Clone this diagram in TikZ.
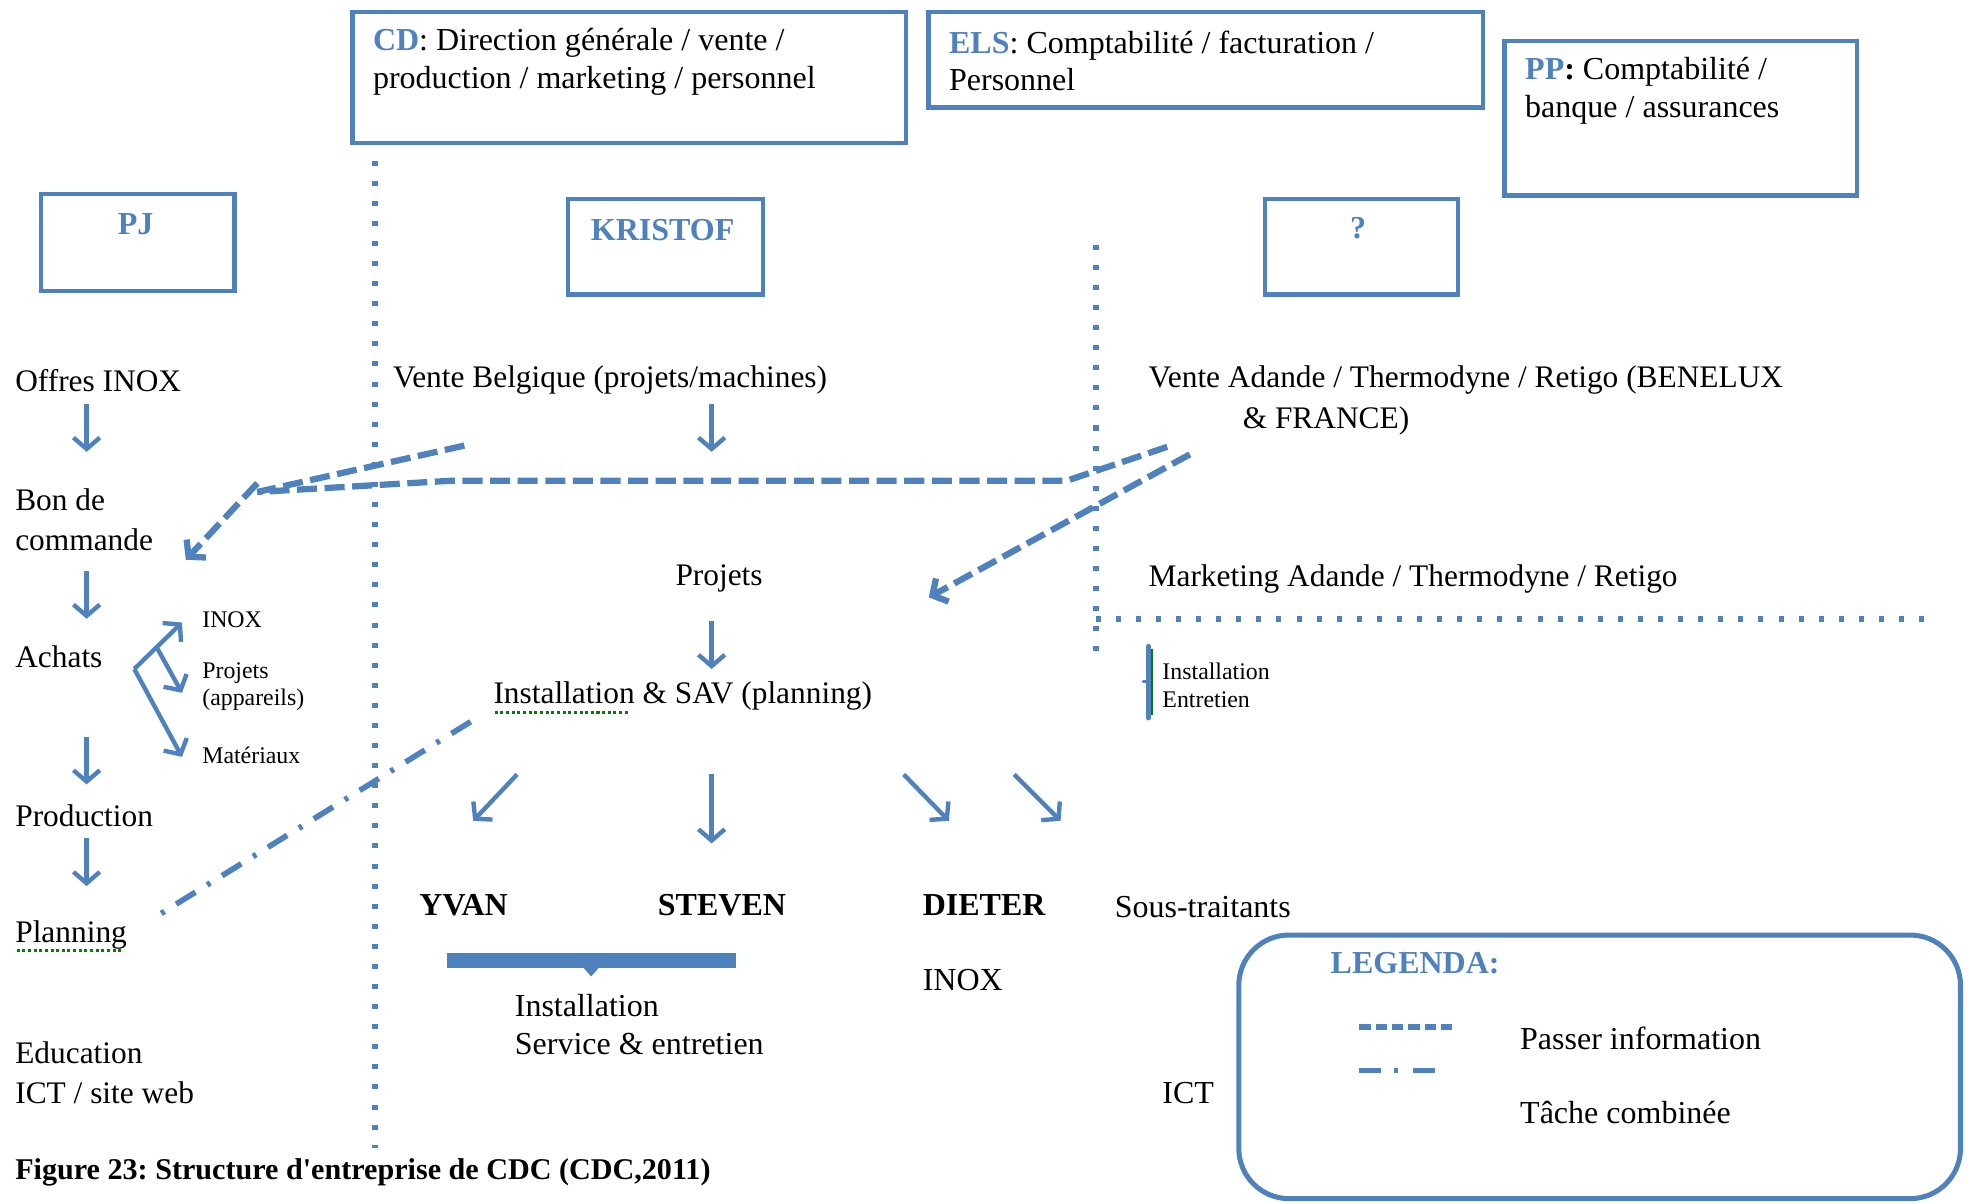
\documentclass[tikz,border=0pt]{standalone}
\usepackage{fontspec}
\setmainfont{Liberation Serif}
\usetikzlibrary{arrows.meta}
\definecolor{cdcblue}{HTML}{4F81BD}
\definecolor{spellgreen}{HTML}{008000}
\frenchspacing

% green dotted mark under a word
\newcommand\spellmark[1]{\setbox0\hbox{#1}\rlap{\raisebox{-0.32em}{\textcolor{spellgreen}{\hbox to \wd0{\leaders\hbox to 4.5pt{\hss\rule{2.4pt}{2.4pt}\hss}\hfill}}}}\box0\relax}

\tikzset{
  orgbox/.style={draw=cdcblue, line width=3.5pt, inner sep=0pt, anchor=north west},
  body/.style={font=\fontsize{25}{32}\selectfont, inner sep=0pt, anchor=west, align=left, yshift=-2pt},
  boxtext/.style={font=\fontsize{25.5}{30}\selectfont, inner sep=0pt, anchor=west, align=left, yshift=-1.5pt},
  small/.style={font=\fontsize{19}{22}\selectfont, inner sep=0pt, anchor=west, align=left},
  person/.style={font=\fontsize{25.5}{30}\selectfont\bfseries, inner sep=0pt, anchor=west},
  boxlabel/.style={font=\fontsize{25.5}{30}\selectfont\bfseries, text=cdcblue, inner sep=0pt},
  flow/.style={draw=cdcblue, line width=3.5pt, -{Straight Barb[length=9pt,width=21pt]}},
  info/.style={draw=cdcblue, line width=5pt, dash pattern=on 16pt off 6pt},
  infoarrow/.style={info, -{Straight Barb[length=9pt,width=21pt]}},
  combined/.style={draw=cdcblue, line width=4.5pt, dash pattern=on 18pt off 11pt on 3pt off 11pt},
  sep/.style={draw=cdcblue, line width=4.5pt, dash pattern=on 4pt off 12pt},
}

\begin{document}
\begin{tikzpicture}[x=1pt, y=-1pt]
\useasboundingbox (0,0) rectangle (1568,958);

% ---------- top boxes ----------
\node[orgbox, minimum width=441, minimum height=104] (cdbox) at (279,8) {};
\node[boxtext] (cdtext) at (297,48) {\textbf{\textcolor{cdcblue}{CD}}: Direction générale / vente /\\production / marketing / personnel};

\node[orgbox, minimum width=442, minimum height=76] (elsbox) at (738,8) {};
\node[boxtext] (elstext) at (756,47) {\textbf{\textcolor{cdcblue}{ELS}}: Comptabilité / facturation /\\Personnel};

\node[orgbox, minimum width=281, minimum height=123] (ppbox) at (1197,31) {};
\node[boxtext] (pptext) at (1215,71) {\textbf{\textcolor{cdcblue}{PP}:} Comptabilité /\\banque / assurances};

\node[orgbox, minimum width=154, minimum height=77] (pjbox) at (31,153) {};
\node[boxlabel] (pj) at (108,179) {PJ};

\node[orgbox, minimum width=155, minimum height=76] (kbox) at (451,157) {};
\node[boxlabel] (kristof) at (528,183) {KRISTOF};

\node[orgbox, minimum width=154, minimum height=76] (qbox) at (1006,157) {};
\node[boxlabel] (q) at (1082,182) {?};

% ---------- column separators ----------
\draw[sep] (299,128) -- (299,915);
\draw[sep] (873,195) -- (873,520);
\draw[sep] (873,493) -- (1542,493);

% ---------- left column ----------
\node[body] (offres) at (12,301) {Offres INOX};
\node[body] (bon) at (12,412) {Bon de\\commande};
\node[body] (achats) at (12,521) {Achats};
\node[body] (prod) at (12,648) {Production};
\node[body] (plan) at (12,744) {\spellmark{Planning}};
\node[body] (edu) at (12,853) {Education\\ICT / site web};

\node[small] (inox) at (161,494) {INOX};
\node[small] (projapp) at (161,547) {Projets\\(appareils)};
\node[small] (mat) at (161,602) {Matériaux};

\coordinate (o1) at (69,322);  \coordinate (o2) at (69,360);
\coordinate (b1) at (69,455);  \coordinate (b2) at (69,493);
\coordinate (c1) at (69,587);  \coordinate (c2) at (69,625);
\coordinate (p1) at (69,668);  \coordinate (p2) at (69,706);
\draw[flow] (o1) -- (o2);
\draw[flow] (b1) -- (b2);
\draw[flow] (c1) -- (c2);
\draw[flow] (p1) -- (p2);

\coordinate (fork) at (107,533);
\coordinate (forkmid) at (125,516);
\coordinate (tinox) at (145,496);
\coordinate (tproj) at (145,552);
\coordinate (tmat) at (145,603);
\draw[flow] (fork) -- (tinox);
\draw[flow] (forkmid) -- (tproj);
\draw[flow] (fork) -- (tmat);

% ---------- middle column ----------
\node[body] (vbel) at (313,301) {Vente Belgique (projets/machines)};
\node[body] (projets) at (538,459) {Projets};
\node[body] (sav) at (393,554) {\spellmark{Installation} \& SAV (planning)};

\coordinate (v1) at (567,322); \coordinate (v2) at (567,360);
\coordinate (j1) at (567,495); \coordinate (j2) at (567,533);
\draw[flow] (v1) -- (v2);
\draw[flow] (j1) -- (j2);

\node[person] (yvan) at (334,721) {YVAN};
\node[person] (steven) at (524,721) {STEVEN};
\node[person] (dieter) at (735,721) {DIETER};
\node[boxtext] (sous) at (888,721) {Sous-traitants};

\coordinate (sy1) at (412,617); \coordinate (sy2) at (377,654);
\coordinate (ss1) at (567,617); \coordinate (ss2) at (567,672);
\coordinate (sd1) at (720,617); \coordinate (sd2) at (756,654);
\coordinate (st1) at (808,617); \coordinate (st2) at (845,654);
\draw[flow] (sy1) -- (sy2);
\draw[flow] (ss1) -- (ss2);
\draw[flow] (sd1) -- (sd2);
\draw[flow] (st1) -- (st2);

% bar grouping YVAN and STEVEN
\fill[cdcblue] (356,759) rectangle (586,771);
\fill[cdcblue] (464,770) -- (478,770) -- (471,778) -- cycle;
\node[boxtext] (instserv) at (410,815) {Installation\\Service \& entretien};

\node[boxtext] (inoxd) at (735,779) {INOX};
\node[boxtext] (ict) at (926,869) {ICT};

% ---------- right column ----------
\node[body] (vada) at (915,317) {Vente Adande / Thermodyne / Retigo (BENELUX\\\hspace*{75pt}\& FRANCE)};
\node[body] (mkt) at (915,459) {Marketing Adande / Thermodyne / Retigo};

\draw[cdcblue, line width=4pt, line cap=round] (915,515) -- (915,572);
\draw[cdcblue, line width=3pt, line cap=round] (911,543) -- (915,543);
\draw[spellgreen, line width=1.5pt] (918,517) -- (918,570);
\node[small] (inst2) at (926,546) {Installation\\Entretien};

% ---------- information flows ----------
\coordinate (jl) at (205,392);
\coordinate (jlb) at (205,385);
\coordinate (fromvbel) at (370,355);
\coordinate (hl) at (360,383);
\coordinate (hr) at (850,383);
\coordinate (fromvada) at (930,356);
\coordinate (fromvada2) at (948,362);
\coordinate (tobon) at (148,446);
\coordinate (toprojets) at (740,476);
\draw[info] (fromvbel) -- (jl);
\draw[info] (fromvada) -- (hr) -- (hl) -- (jl);
\draw[infoarrow] (jlb) -- (tobon);
\draw[infoarrow] (fromvada2) -- (toprojets);

% combined task
\coordinate (ctop) at (375,575);
\coordinate (cbot) at (128,728);
\draw[combined] (ctop) -- (cbot);

% ---------- legend ----------
\draw[draw=cdcblue, line width=4pt, rounded corners=40pt] (987,745) rectangle (1562,955);
\node[person, text=cdcblue] (leg) at (1060,767) {LEGENDA:};
\coordinate (li1) at (1083,818); \coordinate (li2) at (1160,818);
\draw[draw=cdcblue, line width=5pt, dash pattern=on 9pt off 4pt] (li1) -- (li2);
\node[boxtext] (legpi) at (1211,826) {Passer information};
\coordinate (lc1) at (1083,853); \coordinate (lc2) at (1148,853);
\draw[draw=cdcblue, line width=4.5pt, dash pattern=on 17pt off 11pt on 3pt off 12pt] (lc1) -- (lc2);
\node[boxtext] (legtc) at (1211,885) {Tâche combinée};

% ---------- caption ----------
\node[body, font=\fontsize{24}{28}\selectfont\bfseries] (caption) at (12,932) {Figure 23: Structure d\textquotesingle entreprise de CDC (CDC,2011)};
\end{tikzpicture}
\end{document}
